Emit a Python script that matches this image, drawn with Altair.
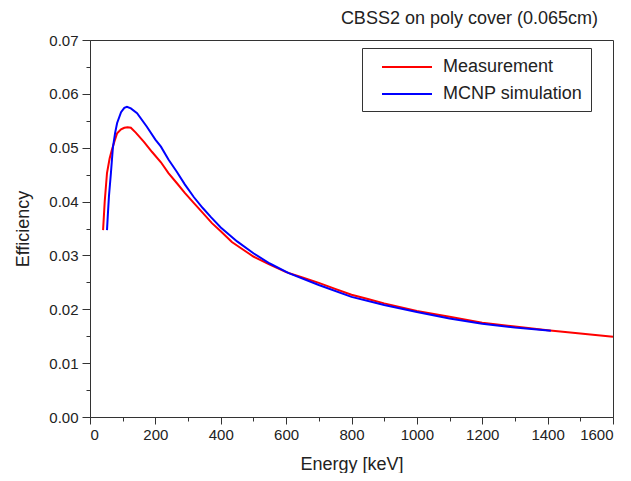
import altair as alt
import pandas as pd

# Measurement (red)
meas_energy = [40, 45, 52, 60, 67, 75, 83, 95, 105, 115, 125, 140, 165, 190, 217, 240,
               266, 290, 318, 345, 373, 400, 434, 470, 500, 550, 600, 650, 700, 750,
               800, 850, 900, 1000, 1100, 1200, 1300, 1400, 1500, 1600]
meas_eff = [0.0347, 0.0400, 0.0453, 0.0480, 0.0496, 0.0512, 0.0527, 0.0534, 0.0537, 0.0538,
            0.0537, 0.0528, 0.0511, 0.0492, 0.0473, 0.0453, 0.0434, 0.0416, 0.0397, 0.0379,
            0.0360, 0.0345, 0.0325, 0.0310, 0.0298, 0.0283, 0.0269, 0.0259, 0.0249, 0.0238,
            0.0227, 0.0219, 0.0211, 0.0197, 0.0186, 0.0175, 0.0168, 0.0161, 0.0155, 0.0149]

# MCNP simulation (blue)
sim_energy = [52, 55, 58, 64, 70, 77, 83, 95, 105, 113, 125, 144, 174, 200, 217, 240, 266,
              290, 318, 345, 370, 400, 450, 500, 550, 608, 700, 800, 900, 1000, 1100, 1200,
              1300, 1410]
sim_eff = [0.0347, 0.0380, 0.0410, 0.0453, 0.0500, 0.0528, 0.0546, 0.0566, 0.0574, 0.0576,
           0.0573, 0.0564, 0.0539, 0.0515, 0.0502, 0.0478, 0.0455, 0.0432, 0.0408, 0.0388,
           0.0371, 0.0352, 0.0326, 0.0304, 0.0285, 0.0267, 0.0245, 0.0223, 0.0208, 0.0195,
           0.0183, 0.0173, 0.0166, 0.0160]

series_names = ["Measurement", "MCNP simulation"]
series_colors = ["#ff0000", "#0000ff"]

df = pd.concat([
    pd.DataFrame({"energy": meas_energy, "eff": meas_eff, "series": series_names[0], "order": range(len(meas_energy))}),
    pd.DataFrame({"energy": sim_energy, "eff": sim_eff, "series": series_names[1], "order": range(len(sim_energy))}),
])

FONT = "Liberation Sans"
TXT = "#222222"

x_axis = alt.Axis(
    title="Energy [keV]",
    values=list(range(0, 1601, 100)),
    labelExpr="datum.value % 200 == 0 ? format(datum.value, 'd') : ''",
    tickSize={"condition": {"test": "datum.value % 200 != 0", "value": 4}, "value": 7},
    labelPadding=3,
    titlePadding=13,
    grid=False,
)
y_axis = alt.Axis(
    title="Efficiency",
    values=[i * 0.005 for i in range(15)],
    labelExpr="round(datum.value * 1000) % 10 == 0 ? format(datum.value, '.2f') : ''",
    tickSize={"condition": {"test": "round(datum.value * 1000) % 10 != 0", "value": 4}, "value": 8},
    labelPadding=4,
    titlePadding=16,
    grid=False,
)

chart = alt.Chart(df).mark_line(strokeWidth=2).encode(
    x=alt.X("energy:Q", scale=alt.Scale(domain=[0, 1600], nice=False, zero=False), axis=x_axis),
    y=alt.Y("eff:Q", scale=alt.Scale(domain=[0, 0.07], nice=False), axis=y_axis),
    color=alt.Color(
        "series:N",
        scale=alt.Scale(domain=series_names, range=series_colors),
        legend=alt.Legend(
            title=None,
            orient="none",
            legendX=272,
            legendY=8,
            symbolType="M0.1,0H5.1",
            symbolSize=400,
            symbolStrokeWidth=2,
            labelFontSize=18,
            labelFont=FONT,
            labelColor=TXT,
            labelOffset=51,
            strokeColor="#333333",
            fillColor="white",
            padding=8,
            rowPadding=7,
        ),
    ),
    order="order:Q",
).properties(
    width=523,
    height=377,
    title=alt.TitleParams(
        "CBSS2 on poly cover (0.065cm)",
        anchor="end",
        frame="group",
        fontSize=18,
        font=FONT,
        fontWeight="normal",
        color=TXT,
        dx=-15,
        offset=5,
    ),
    autosize=alt.AutoSizeParams(type="none"),
    padding={"left": 82, "top": 32, "right": 10, "bottom": 56},
).configure_view(
    stroke="#333333", strokeWidth=1
).configure_axis(
    domainColor="#333333",
    tickColor="#333333",
    labelFont=FONT,
    labelFontSize=15,
    labelColor=TXT,
    titleFont=FONT,
    titleFontSize=18,
    titleFontWeight="normal",
    titleColor=TXT,
)

chart.save("out.html", embed_options={"renderer": "svg", "actions": False})
